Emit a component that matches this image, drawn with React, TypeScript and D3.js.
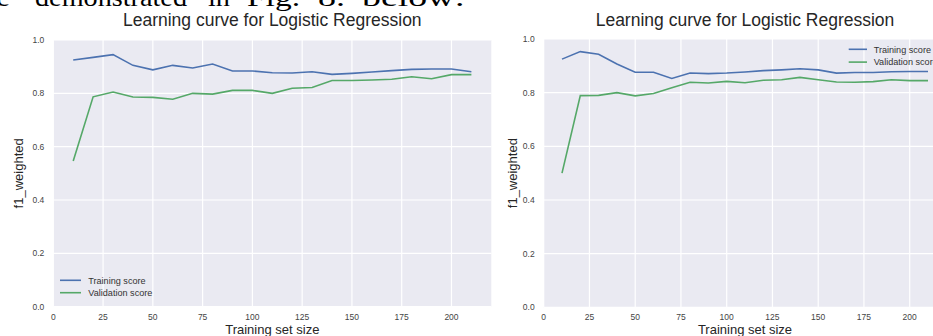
import React, { useEffect, useRef } from 'react';
import * as d3 from 'd3';

// Training set sizes (x positions of the learning-curve points)
const trainSizes = [10, 20, 30, 40, 50, 60, 70, 80, 90, 100, 110, 120, 130, 140, 150, 160, 170, 180, 190, 200, 210];

// Left panel scores
const leftTrain = [0.925, 0.935, 0.945, 0.905, 0.888, 0.905, 0.895, 0.91, 0.884, 0.884, 0.877, 0.876, 0.881, 0.871, 0.875, 0.88, 0.885, 0.89, 0.891, 0.891, 0.881];
const leftValid = [0.546, 0.787, 0.805, 0.786, 0.785, 0.778, 0.8, 0.797, 0.811, 0.811, 0.8, 0.819, 0.822, 0.848, 0.848, 0.85, 0.853, 0.862, 0.855, 0.87, 0.87];

// Right panel scores
const rightTrain = [0.925, 0.953, 0.943, 0.907, 0.876, 0.876, 0.853, 0.873, 0.871, 0.873, 0.877, 0.882, 0.885, 0.889, 0.885, 0.873, 0.875, 0.875, 0.878, 0.879, 0.879];
const rightValid = [0.5, 0.789, 0.79, 0.8, 0.788, 0.797, 0.818, 0.839, 0.836, 0.842, 0.837, 0.846, 0.848, 0.857, 0.848, 0.84, 0.839, 0.841, 0.848, 0.845, 0.845];

const xTicks = [0, 25, 50, 75, 100, 125, 150, 175, 200];
const yTicks = [0.0, 0.2, 0.4, 0.6, 0.8, 1.0];
const seriesNames = ['Training score', 'Validation score'];
const title = 'Learning curve for Logistic Regression';

// Cut-off line of body text above the figure (cropped in the source too)
const headerWords = ['e', 'demonstrated', 'in', 'Fig.', '8.', 'below:'];

const BLUE = '#4c72b0';
const GREEN = '#55a868';
const FONT = 'Liberation Sans, Arial, sans-serif';

const App = () => {
  const svgRef = useRef<SVGSVGElement | null>(null);

  useEffect(() => {
    const svg = d3.select(svgRef.current);
    svg.selectAll('*').remove();

    // header text (justified words, only the bottom is visible)
    const headerX = [-4, 35, 208, 247, 318, 362];
    const headerW = [14, 152, 22, 53, 27, 103];
    svg.append('g')
      .selectAll('text')
      .data(headerWords)
      .join('text')
      .attr('x', (d, i) => headerX[i])
      .attr('y', 6)
      .attr('textLength', (d, i) => headerW[i])
      .attr('lengthAdjust', 'spacingAndGlyphs')
      .attr('font-family', 'Liberation Serif, Times New Roman, serif')
      .attr('font-size', 26)
      .attr('fill', '#000')
      .text((d) => d);

    const panels = [
      { left: 53.3, right: 491.3, top: 40, bottom: 306.7, train: leftTrain, valid: leftValid, legend: 'lowerleft', ylabX: 18 },
      { left: 543.7, right: 946.3, top: 39, bottom: 307.3, train: rightTrain, valid: rightValid, legend: 'upperright', ylabX: 512.5 },
    ];

    panels.forEach((p) => {
      const x = d3.scaleLinear().domain([0, 220]).range([p.left, p.right]);
      const y = d3.scaleLinear().domain([0, 1]).range([p.bottom, p.top]);
      const g = svg.append('g');

      g.append('rect')
        .attr('x', p.left)
        .attr('y', p.top)
        .attr('width', p.right - p.left)
        .attr('height', p.bottom - p.top)
        .attr('fill', '#eaeaf2');

      // grid
      g.selectAll('.vgrid')
        .data(xTicks)
        .join('line')
        .attr('x1', (d) => x(d))
        .attr('x2', (d) => x(d))
        .attr('y1', p.top)
        .attr('y2', p.bottom)
        .attr('stroke', '#fff')
        .attr('stroke-width', 1.2);
      g.selectAll('.hgrid')
        .data(yTicks)
        .join('line')
        .attr('x1', p.left)
        .attr('x2', p.right)
        .attr('y1', (d) => y(d))
        .attr('y2', (d) => y(d))
        .attr('stroke', '#fff')
        .attr('stroke-width', 1.2);

      // tick labels
      g.selectAll('.xt')
        .data(xTicks)
        .join('text')
        .attr('x', (d) => x(d))
        .attr('y', 319.5)
        .attr('text-anchor', 'middle')
        .attr('font-family', FONT)
        .attr('font-size', 8.5)
        .attr('fill', '#444')
        .text((d) => String(d));
      g.selectAll('.yt')
        .data(yTicks)
        .join('text')
        .attr('x', p.left - 9)
        .attr('y', (d) => y(d) + 3)
        .attr('text-anchor', 'end')
        .attr('font-family', FONT)
        .attr('font-size', 8.5)
        .attr('fill', '#444')
        .text((d) => d.toFixed(1));

      // lines
      const line = d3.line<number>()
        .x((d, i) => x(trainSizes[i]))
        .y((d) => y(d));
      g.append('path')
        .attr('d', line(p.train))
        .attr('fill', 'none')
        .attr('stroke', BLUE)
        .attr('stroke-width', 1.6);
      g.append('path')
        .attr('d', line(p.valid))
        .attr('fill', 'none')
        .attr('stroke', GREEN)
        .attr('stroke-width', 1.6);

      // title and axis labels
      const cx = (p.left + p.right) / 2;
      g.append('text')
        .attr('x', cx)
        .attr('y', 25.5)
        .attr('text-anchor', 'middle')
        .attr('font-family', FONT)
        .attr('font-size', 17.5)
        .attr('fill', '#262626')
        .text(title);
      g.append('text')
        .attr('x', cx)
        .attr('y', 333.5)
        .attr('text-anchor', 'middle')
        .attr('font-family', FONT)
        .attr('font-size', 13)
        .attr('fill', '#262626')
        .text('Training set size');
      g.append('text')
        .attr('transform', `translate(${p.ylabX + 4.5}, ${(p.top + p.bottom) / 2}) rotate(-90)`)
        .attr('text-anchor', 'middle')
        .attr('font-family', FONT)
        .attr('font-size', 13)
        .attr('fill', '#262626')
        .text('f1_weighted');

      // legend
      const lg = p.legend === 'lowerleft'
        ? { x0: 60, x1: 81, tx: 88.3, y0: 280.3, dy: 12.4 }
        : { x0: 848.7, x1: 867, tx: 873.7, y0: 49.3, dy: 12.8 };
      [BLUE, GREEN].forEach((c, i) => {
        g.append('line')
          .attr('x1', lg.x0)
          .attr('x2', lg.x1)
          .attr('y1', lg.y0 + i * lg.dy)
          .attr('y2', lg.y0 + i * lg.dy)
          .attr('stroke', c)
          .attr('stroke-width', 1.6);
        g.append('text')
          .attr('x', lg.tx)
          .attr('y', lg.y0 + i * lg.dy + 3.3)
          .attr('font-family', FONT)
          .attr('font-size', 9.1)
          .attr('fill', '#333')
          .text(seriesNames[i]);
      });
    });
  }, []);

  return (
    <svg
      ref={svgRef}
      width={933}
      height={336}
      style={{ position: 'absolute', left: 0, top: 0, display: 'block', background: '#fff' }}
    />
  );
};

export default App;
